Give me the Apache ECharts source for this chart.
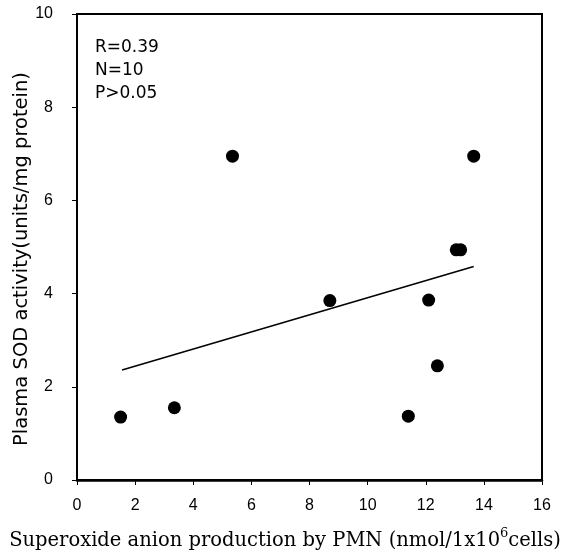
<!DOCTYPE html>
<html>
<head>
<meta charset="utf-8">
<script src="https://cdn.jsdelivr.net/npm/echarts@6/dist/echarts.min.js"></script>
<style>html,body{margin:0;padding:0;background:#fff}#c{width:570px;height:556px}</style>
</head>
<body>
<div id="c"></div>
<script>
// Data
const superoxide = [1.5, 3.35, 5.35, 8.7, 11.4, 12.1, 12.4, 13.05, 13.2, 13.65];
const sodActivity = [1.35, 1.55, 6.95, 3.85, 1.37, 3.86, 2.45, 4.94, 4.94, 6.95];
const fitX = [1.55, 13.65];
const fitY = [2.36, 4.58];
const xTicks = [0, 2, 4, 6, 8, 10, 12, 14, 16];
const yTicks = [0, 2, 4, 6, 8, 10];
const statLines = ['R=0.39', 'N=10', 'P>0.05'];
const xTitle = 'Superoxide anion production by PMN (nmol/1x10{sup|6}cells)';
const yTitle = 'Plasma SOD activity(units/mg protein)';

const points = superoxide.map((x, i) => [x, sodActivity[i]]);
const fitLine = fitX.map((x, i) => [x, fitY[i]]);

const chart = echarts.init(document.getElementById('c'));
chart.setOption({
  animation: false,
  backgroundColor: '#fff',
  grid: { left: 77, right: 28, top: 14, bottom: 76, outerBoundsMode: 'none', containLabel: false, show: true, borderColor: '#000', borderWidth: 2, backgroundColor: 'transparent' },
  xAxis: {
    type: 'value', min: xTicks[0], max: xTicks[xTicks.length - 1], interval: 2,
    axisLine: { show: true, onZero: false, lineStyle: { color: '#000', width: 2.5 } },
    axisTick: { show: true, length: 5, lineStyle: { color: '#000', width: 1 } },
    axisLabel: { color: '#000', fontFamily: 'Liberation Sans', fontSize: 16, margin: 18 },
    splitLine: { show: false }
  },
  yAxis: {
    type: 'value', min: yTicks[0], max: yTicks[yTicks.length - 1], interval: 2,
    axisLine: { show: true, lineStyle: { color: '#000', width: 2 } },
    axisTick: { show: true, length: 5, lineStyle: { color: '#000', width: 1 } },
    axisLabel: { color: '#000', fontFamily: 'Liberation Sans', fontSize: 16, margin: 24 },
    splitLine: { show: false }
  },
  graphic: [
    {
      type: 'text', x: 22, y: 259, rotation: Math.PI / 2,
      style: { text: yTitle, fill: '#000', fontFamily: 'DejaVu Sans', fontSize: 19.5, align: 'center', verticalAlign: 'middle' }
    },
    {
      type: 'text', x: 285, y: 541,
      style: {
        text: xTitle, fill: '#000', fontFamily: 'DejaVu Serif', fontSize: 19.5, align: 'center', verticalAlign: 'middle',
        rich: {
          sup: { fontFamily: 'DejaVu Serif', fontSize: 13, fill: '#000', verticalAlign: 'bottom', padding: [0, 0, 14, 0] }
        }
      }
    },
    {
      type: 'text', x: 95, y: 36,
      style: { text: statLines.join('\n'), fill: '#000', fontFamily: 'DejaVu Sans', fontSize: 17, lineHeight: 23 }
    }
  ],
  series: [
    {
      type: 'line', data: fitLine, symbol: 'none',
      lineStyle: { color: '#000', width: 1.5 }, z: 2
    },
    {
      type: 'scatter', data: points, symbol: 'circle', symbolSize: 13,
      itemStyle: { color: '#000', opacity: 1 }, z: 3
    }
  ]
});
</script>
</body>
</html>
